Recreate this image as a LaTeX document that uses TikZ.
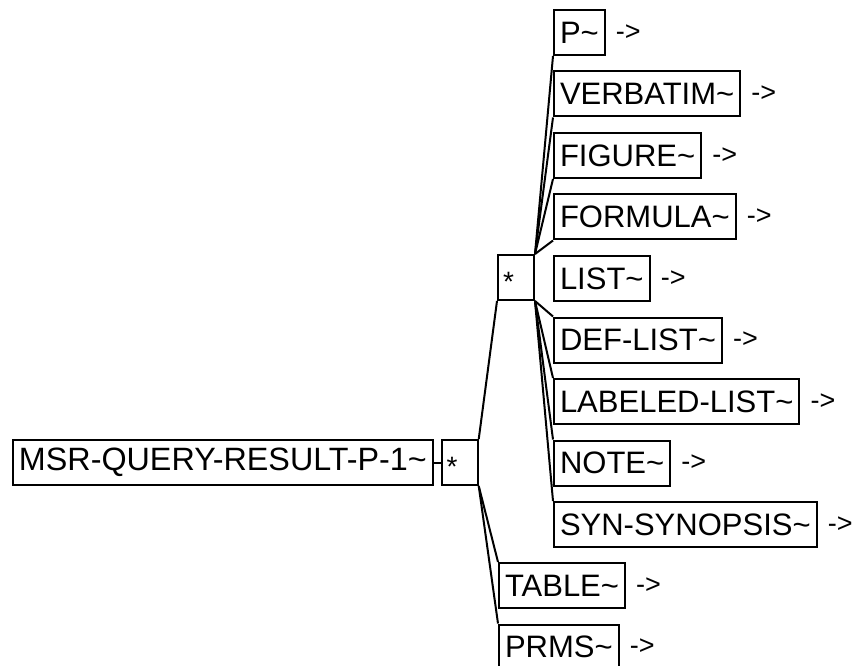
\documentclass[tikz,border=0pt]{standalone}
\usepackage{fontspec}
\setmainfont{Liberation Sans}
\usetikzlibrary{positioning}

\tikzset{
  elem/.style={draw,line width=2pt,inner xsep=6pt,inner ysep=0pt,minimum height=45pt,font=\fontsize{31}{36}\selectfont},
  rep/.style={draw,line width=2pt,inner xsep=5pt,inner ysep=0pt,minimum height=45pt,text width=26pt,align=left,text height=27pt,text depth=0pt,font=\fontsize{28}{30}\selectfont},
  more/.style={inner sep=0pt,font=\fontsize{27}{30}\selectfont},
  link/.style={line width=2pt}
}

\begin{document}
\begin{tikzpicture}[x=1pt,y=1pt,node distance=14.5pt and 10pt]
  \useasboundingbox (0,0) rectangle (863,-666);
  % left part
  \node[elem,anchor=north west,font=\fontsize{32.3}{36}\selectfont] (root) at (12,-439) {MSR-QUERY-RESULT-P-1\textasciitilde};
  \node[rep,right=7pt of root] (rep1) {*};
  \node[rep,anchor=north west] (rep2) at (497,-254) {*};
  % children of the inner repetition
  \node[elem,anchor=north west] (p) at (553,-9) {P\textasciitilde};
  \node[elem,below=of p.south west,anchor=north west] (verbatim) {VERBATIM\textasciitilde};
  \node[elem,below=of verbatim.south west,anchor=north west] (figure) {FIGURE\textasciitilde};
  \node[elem,below=of figure.south west,anchor=north west] (formula) {FORMULA\textasciitilde};
  \node[elem,below=of formula.south west,anchor=north west] (list) {LIST\textasciitilde};
  \node[elem,below=of list.south west,anchor=north west] (deflist) {DEF-LIST\textasciitilde};
  \node[elem,below=of deflist.south west,anchor=north west] (labeledlist) {LABELED-LIST\textasciitilde};
  \node[elem,below=of labeledlist.south west,anchor=north west] (note) {NOTE\textasciitilde};
  \node[elem,below=of note.south west,anchor=north west] (synopsis) {SYN-SYNOPSIS\textasciitilde};
  % children of the outer repetition
  \node[elem,anchor=north west] (table) at (498,-562) {TABLE\textasciitilde};
  \node[elem,below=of table.south west,anchor=north west] (prms) {PRMS\textasciitilde};
  % expand marks
  \node[more,right=of p] (p-x) {->};
  \node[more,right=of verbatim] (verbatim-x) {->};
  \node[more,right=of figure] (figure-x) {->};
  \node[more,right=of formula] (formula-x) {->};
  \node[more,right=of list] (list-x) {->};
  \node[more,right=of deflist] (deflist-x) {->};
  \node[more,right=of labeledlist] (labeledlist-x) {->};
  \node[more,right=of note] (note-x) {->};
  \node[more,right=of synopsis] (synopsis-x) {->};
  \node[more,right=of table] (table-x) {->};
  \node[more,right=of prms] (prms-x) {->};
  % tree lines
  \draw[link] (root)--(rep1);
  \draw[link] (rep1.north east)--(rep2.south west);
  \draw[link] (rep1.south east)--(table.north west);
  \draw[link] (rep1.south east)--(prms.north west);
  \draw[link] (rep2.north east)--(p.south west);
  \draw[link] (rep2.north east)--(verbatim.south west);
  \draw[link] (rep2.north east)--(figure.south west);
  \draw[link] (rep2.north east)--(formula.south west);
  \draw[link] (rep2.south east)--(deflist.north west);
  \draw[link] (rep2.south east)--(labeledlist.north west);
  \draw[link] (rep2.south east)--(note.north west);
  \draw[link] (rep2.south east)--(synopsis.north west);
\end{tikzpicture}
\end{document}
